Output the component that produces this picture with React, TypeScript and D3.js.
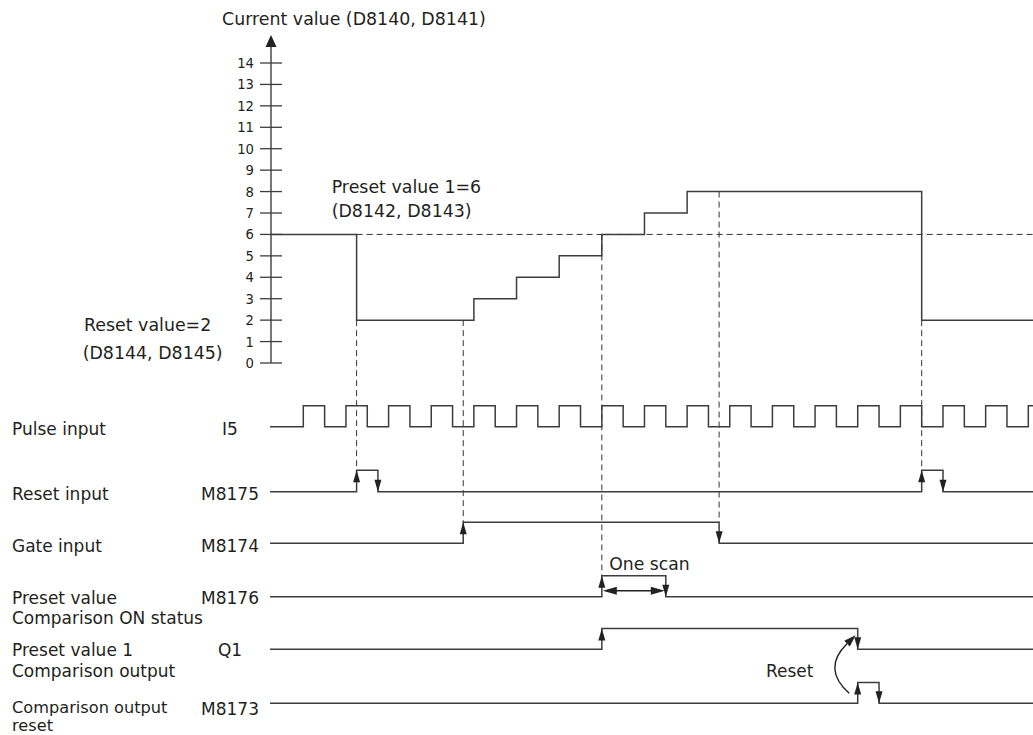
import React from 'react';
import * as d3 from 'd3';

// ---- data ----
const yTicks = [0, 1, 2, 3, 4, 5, 6, 7, 8, 9, 10, 11, 12, 13, 14];
const pulseRises = [0, 1, 2, 3, 4, 5, 6, 7, 8, 9, 10, 11, 12, 13, 14, 15, 16, 17];
const pulseWidth = 0.5;
// counter value steps: [time, value]
const counterTimes = [-0.78, 1.25, 4, 5, 6, 7, 8, 9, 14.5, 17.2];
const counterValues = [6, 2, 3, 4, 5, 6, 7, 8, 2, 2];
const presetValue = 6;
const resetEdges = [1.25, 1.75, 14.5, 15];
const gateEdges = [3.75, 9.75];
const cmpStatusEdges = [7, 8.5];
const q1Edges = [7, 13];
const cmpResetEdges = [13, 13.5];
const signalNames = [
  ['Pulse input'],
  ['Reset input'],
  ['Gate input'],
  ['Preset value', 'Comparison ON status'],
  ['Preset value 1', 'Comparison output'],
  ['Comparison output', 'reset'],
];
const signalCodes = ['I5', 'M8175', 'M8174', 'M8176', 'Q1', 'M8173'];

const FONT = "'DejaVu Sans', Verdana, sans-serif";
const LINE = '#3d3d3d';
const TEXT = '#231f20';

export default function App() {
  const x = d3.scaleLinear().domain([0, 17]).range([303.3, 1028.3]);
  const y = d3.scaleLinear().domain([0, 14]).range([363, 63]);
  const tStart = x.invert(270);
  const tEnd = x.invert(1034);
  const axisX = 271;

  // layout of signal rows: [low y, high y]
  const rows = [
    [426.7, 405.7],
    [491.7, 470.3],
    [543.3, 522.3],
    [596.7, 575.7],
    [649.3, 628.5],
    [703.3, 682.5],
  ];
  const nameBaselines = [[435], [500], [551.7], [604, 623.5], [656, 676.5], [713, 731]];
  const nameSizes = [17, 17, 17, 17, 17, 16.2];
  const codeBaselines = [435, 500, 551.7, 604, 656, 715];

  const pulseEdges: number[] = [];
  pulseRises.forEach((r) => {
    pulseEdges.push(r, r + pulseWidth);
  });

  const edgesList = [pulseEdges, resetEdges, gateEdges, cmpStatusEdges, q1Edges, cmpResetEdges];

  const signalPath = (edges: number[], lo: number, hi: number) => {
    const p = d3.path();
    let level = 0;
    p.moveTo(x(tStart), lo);
    edges.forEach((e) => {
      if (e > tEnd) return;
      const yy = level ? hi : lo;
      p.lineTo(x(e), yy);
      level = 1 - level;
      p.lineTo(x(e), level ? hi : lo);
    });
    p.lineTo(x(tEnd), level ? hi : lo);
    return p.toString();
  };

  const counterData = counterTimes.map((t, i) => [t, counterValues[i]] as [number, number]);
  const counterLine = d3
    .line<[number, number]>()
    .x((d) => Math.max(axisX, x(d[0])))
    .y((d) => y(d[1]))
    .curve(d3.curveStepAfter);

  const arrowUp = (ax: number, tipY: number, w = 7, h = 12) =>
    `M${ax},${tipY} L${ax - w / 2},${tipY + h} L${ax + w / 2},${tipY + h} Z`;
  const arrowDown = (ax: number, tipY: number, w = 7, h = 12) =>
    `M${ax},${tipY} L${ax - w / 2},${tipY - h} L${ax + w / 2},${tipY - h} Z`;

  const edgeArrows: string[] = [];
  edgesList.forEach((edges, ri) => {
    if (ri === 0) return;
    const [lo, hi] = rows[ri];
    edges.forEach((e, k) => {
      if (k % 2 === 0) edgeArrows.push(arrowUp(x(e), hi));
      else edgeArrows.push(arrowDown(x(e), lo));
    });
  });

  // dashed guide lines: time, from counter value, to y
  const guides = [
    { t: resetEdges[0], y1: y(2), y2: rows[1][1] },
    { t: gateEdges[0], y1: y(2), y2: rows[2][1] },
    { t: cmpStatusEdges[0], y1: y(6), y2: rows[3][1] },
    { t: gateEdges[1], y1: y(8), y2: rows[2][1] },
    { t: resetEdges[2], y1: y(2), y2: rows[1][1] },
  ];

  // one scan arrow
  const osY = 590.7;
  const osX1 = x(cmpStatusEdges[0]);
  const osX2 = x(cmpStatusEdges[1]);

  // reset curved arrow
  const cx0 = x(q1Edges[1]) - 8.5;
  const cy0 = 693.3;
  const cx1 = x(q1Edges[1]) - 3.5;
  const cy1 = 636.7;
  const ctrlX = cx0 - 27.7;
  const ctrlY = 668.4;
  const ang = Math.atan2(cy1 - ctrlY, cx1 - ctrlX);
  const ah = 12;
  const aw = 4;
  const tipX = cx1 + Math.cos(ang) * 2;
  const tipY = cy1 + Math.sin(ang) * 2;
  const bx = tipX - Math.cos(ang) * ah;
  const by = tipY - Math.sin(ang) * ah;
  const px = -Math.sin(ang) * aw;
  const py = Math.cos(ang) * aw;

  return (
    <svg width={1033} height={735} style={{ position: 'absolute', left: 0, top: 0, background: '#fff' }}>
      <rect x={0} y={0} width={1033} height={735} fill="#fff" />
      {/* Title */}
      <text x={222} y={25} fontFamily={FONT} fontSize={17.4} fill={TEXT}>
        Current value (D8140, D8141)
      </text>
      {/* Y axis */}
      <line x1={axisX} x2={axisX} y1={y(0)} y2={44} stroke={LINE} strokeWidth={1.4} />
      <path d={`M${axisX},35 L${axisX - 5.5},47 L${axisX + 5.5},47 Z`} fill="#222" />
      {yTicks.map((v) => (
        <g key={v}>
          <line x1={260} x2={282} y1={y(v)} y2={y(v)} stroke={LINE} strokeWidth={1.3} />
          <text
            x={254}
            y={y(v) + 5}
            textAnchor="end"
            fontFamily={FONT}
            fontSize={13.2}
            fill={TEXT}
          >
            {v}
          </text>
        </g>
      ))}
      {/* preset dashed line */}
      <line
        x1={x(counterTimes[1])}
        x2={1033}
        y1={y(presetValue)}
        y2={y(presetValue)}
        stroke="#333"
        strokeWidth={1}
        strokeDasharray="6,4"
      />
      {/* guides */}
      {guides.map((g, i) => (
        <line
          key={i}
          x1={x(g.t)}
          x2={x(g.t)}
          y1={g.y1}
          y2={g.y2}
          stroke="#333"
          strokeWidth={1}
          strokeDasharray="6,4"
        />
      ))}
      {/* counter */}
      <path d={counterLine(counterData) || ''} fill="none" stroke={LINE} strokeWidth={1.5} />
      <text x={331.7} y={193.3} fontFamily={FONT} fontSize={17.4} fill={TEXT}>
        Preset value 1=6
      </text>
      <text x={331.7} y={216.7} fontFamily={FONT} fontSize={17.4} fill={TEXT}>
        (D8142, D8143)
      </text>
      <text x={84} y={330.7} fontFamily={FONT} fontSize={17.4} fill={TEXT}>
        Reset value=2
      </text>
      <text x={82.7} y={359.3} fontFamily={FONT} fontSize={17.4} fill={TEXT}>
        (D8144, D8145)
      </text>
      {/* signals */}
      {edgesList.map((edges, i) => (
        <path key={i} d={signalPath(edges, rows[i][0], rows[i][1])} fill="none" stroke={LINE} strokeWidth={1.5} />
      ))}
      {edgeArrows.map((d, i) => (
        <path key={i} d={d} fill="#222" />
      ))}
      {signalNames.map((lines, i) =>
        lines.map((s, j) => (
          <text key={`${i}-${j}`} x={12} y={nameBaselines[i][j]} fontFamily={FONT} fontSize={nameSizes[i]} fill={TEXT}>
            {s}
          </text>
        ))
      )}
      {signalCodes.map((c, i) => (
        <text key={c} x={230} y={codeBaselines[i]} textAnchor="middle" fontFamily={FONT} fontSize={17} fill={TEXT}>
          {c}
        </text>
      ))}
      {/* one scan */}
      <line x1={osX1 + 12} x2={osX2 - 12} y1={osY} y2={osY} stroke="#222" strokeWidth={1.5} />
      <path d={`M${osX1 + 1},${osY} L${osX1 + 15},${osY - 4} L${osX1 + 15},${osY + 4} Z`} fill="#222" />
      <path d={`M${osX2 - 1},${osY} L${osX2 - 15},${osY - 4} L${osX2 - 15},${osY + 4} Z`} fill="#222" />
      <text x={609.3} y={570} fontFamily={FONT} fontSize={17.2} fill={TEXT}>
        One scan
      </text>
      {/* reset curved arrow */}
      <path
        d={`M${cx0},${cy0} Q${ctrlX},${ctrlY} ${bx},${by}`}
        fill="none"
        stroke="#222"
        strokeWidth={1.4}
      />
      <path d={`M${tipX},${tipY} L${bx + px},${by + py} L${bx - px},${by - py} Z`} fill="#222" />
      <text x={766} y={676.7} fontFamily={FONT} fontSize={17} fill={TEXT}>
        Reset
      </text>
    </svg>
  );
}
